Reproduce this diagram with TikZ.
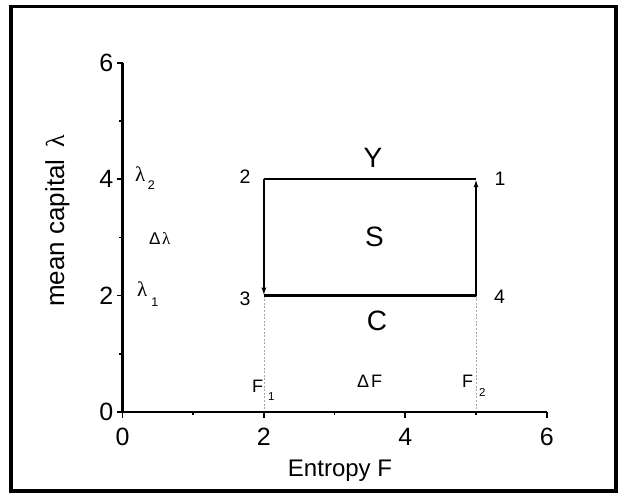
\documentclass[tikz,border=0pt]{standalone}
\usepackage{fontspec}
\setmainfont{Liberation Sans}
\newfontfamily\grk{Liberation Serif}
\usetikzlibrary{arrows.meta}
\newcommand{\fsz}[1]{\fontsize{#1}{#1}\selectfont}
\newcommand{\lam}{{\grk λ}}
\begin{document}
\begin{tikzpicture}[x=1pt,y=1pt,
  axisline/.style={line width=2.3pt},
  majortick/.style={line width=1.8pt},
  minortick/.style={line width=1.5pt},
  cycleline/.style={line width=2.6pt},
  cyclearrow/.style={cycleline,-{Latex[length=8pt,width=5pt]}},
  guide/.style={line width=0.6pt,gray!70,dash pattern=on 2pt off 1.6pt},
  ticklab/.style={font=\fsz{25},inner sep=0pt},
  axtitle/.style={font=\fsz{24},inner sep=0pt},
  ptlab/.style={font=\fsz{19.5},inner sep=0pt},
  reglab/.style={font=\fsz{28},inner sep=0pt},
  lamlab/.style={font=\fsz{21},inner sep=0pt,anchor=base west},
  smalllab/.style={font=\fsz{18},inner sep=0pt,anchor=base west}
]
\useasboundingbox (0,0) rectangle (623,494);
\draw[line width=3.5pt] (11,487.5) rectangle (616,3.2);

\begin{scope}[shift={(122.5,82)},x=70.7pt,y=58.2pt]
  \coordinate (o) at (0,0);
  \coordinate (xe) at (6,0);
  \coordinate (ye) at (0,6);
  \coordinate (p1) at (5,4);
  \coordinate (p2) at (2,4);
  \coordinate (p3) at (2,2);
  \coordinate (p4) at (5,2);
  \coordinate (f1) at (2,0);
  \coordinate (f2) at (5,0);
  % guides
  \draw[guide] (p3) -- (f1);
  \draw[guide] (p4) -- (f2);
  % axes
  \draw[axisline] (ye) -- (o) -- (xe);
  \foreach \v in {0,2,4,6} {
    \draw[majortick] (\v,0) -- ++(0pt,-6pt);
    \draw[majortick] (0,\v) -- ++(-6pt,0pt);
    \node[ticklab] (xl\v) at ([yshift=-25pt]\v,0) {\v};
    \node[ticklab,anchor=east] (yl\v) at ([xshift=-9pt]0,\v) {\v};
  }
  \foreach \v in {1,3,5} {
    \draw[minortick] (\v,0) -- ++(0pt,-3.5pt);
    \draw[minortick] (0,\v) -- ++(-3.5pt,0pt);
  }
  % cycle
  \draw[cycleline] (p2) -- (p1);
  \draw[cycleline] (p3) -- (p4);
  \draw[cyclearrow] (p2) -- (p3);
  \draw[cyclearrow] (p4) -- (p1);
\end{scope}

% axis titles
\node[axtitle,anchor=base] (xt) at (340,17.3) {Entropy F};
\node[font=\fsz{26},inner sep=0pt,rotate=90,anchor=base] (yt) at (64,273) {mean capital \,\lam};

% corner labels
\node[ptlab] (n1) at (500,315.5) {1};
\node[ptlab] (n2) at (245,317.5) {2};
\node[ptlab] (n3) at (245,195.5) {3};
\node[ptlab] (n4) at (499.5,197.5) {4};

% region labels
\node[reglab] (ly) at (373,336) {Y};
\node[reglab] (ls) at (374.5,257) {S};
\node[reglab] (lc) at (377,173) {C};

% lambda labels
\node[lamlab] (lam2) at (135,312) {\lam\hspace{2.5pt}\raisebox{-8pt}{\fsz{12.5}2}};
\node[lamlab] (lam1) at (137,197) {\lam\hspace{4pt}\raisebox{-9.5pt}{\fsz{12.5}1}};
\node[lamlab,font=\fsz{17}] (dlam) at (149,249) {Δ\hspace{1.5pt}\lam};

% F labels
\node[smalllab] (F1) at (252,101) {F\hspace{5pt}\raisebox{-8pt}{\fsz{11.5}1}};
\node[smalllab] (F2) at (462,106) {F\hspace{6pt}\raisebox{-9pt}{\fsz{11.5}2}};
\node[smalllab] (dF) at (357,106) {Δ\hspace{2pt}F};
\end{tikzpicture}
\end{document}
